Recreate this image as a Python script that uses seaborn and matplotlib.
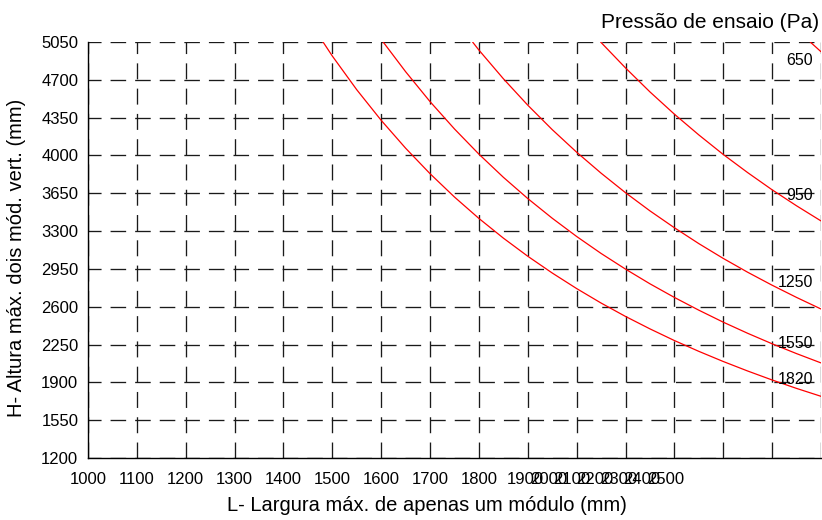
import numpy as np
import pandas as pd
import matplotlib
matplotlib.use("Agg")
import matplotlib.pyplot as plt
import seaborn as sns

# max module height (mm) vs max module width (mm), one curve per test pressure (Pa)
pressures = [1820, 1550, 1250, 950, 650]

width_1820 = [1481, 1500, 1550, 1600, 1650, 1700, 1750, 1800, 1850, 1900, 1950,
              2000, 2050, 2100, 2150, 2200, 2250, 2300, 2350, 2400, 2450, 2500]
height_1820 = [5050, 4920, 4608, 4325, 4067, 3831, 3615, 3417, 3235, 3067, 2912,
               2768, 2634, 2510, 2395, 2287, 2187, 2093, 2005, 1922, 1844, 1771]

width_1550 = [1604, 1650, 1700, 1750, 1800, 1850, 1900, 1950, 2000, 2050,
              2100, 2150, 2200, 2250, 2300, 2350, 2400, 2450, 2500]
height_1550 = [5050, 4775, 4498, 4245, 4012, 3798, 3601, 3419, 3250, 3093,
               2948, 2812, 2686, 2568, 2457, 2354, 2257, 2166, 2080]

width_1250 = [1787, 1800, 1850, 1900, 1950, 2000, 2050, 2100, 2150, 2200,
              2250, 2300, 2350, 2400, 2450, 2500]
height_1250 = [5050, 4975, 4710, 4465, 4239, 4030, 3836, 3655, 3487, 3331,
               3184, 3047, 2919, 2799, 2686, 2579]

width_950 = [2049, 2100, 2150, 2200, 2250, 2300, 2350, 2400, 2450, 2500]
height_950 = [5050, 4810, 4588, 4382, 4190, 4009, 3841, 3682, 3534, 3394]

width_650 = [2478, 2500]
height_650 = [5050, 4960]

# curve labels at the right edge
label_text = ["650", "950", "1250", "1550", "1820"]
label_h = [4883, 3634, 2820, 2264, 1922]

y_ticks = [1200, 1550, 1900, 2250, 2600, 2950, 3300, 3650, 4000, 4350, 4700, 5050]
x_ticks = list(range(1000, 2600, 100))
x_labels = ["1000", "1100", "1200", "1300", "1400", "1500", "1600", "1700", "1800"]
cram_labels = ["1900", "2000", "2100", "2200", "2300", "2400", "2500"]

frames = []
for p, w, h in zip(pressures,
                   [width_1820, width_1550, width_1250, width_950, width_650],
                   [height_1820, height_1550, height_1250, height_950, height_650]):
    frames.append(pd.DataFrame({"L": w, "H": h, "P": str(p)}))
df = pd.concat(frames, ignore_index=True)

sns.set_style("white")
plt.rcParams["font.family"] = ["Liberation Sans", "DejaVu Sans"]
plt.rcParams["lines.scale_dashes"] = False
plt.rcParams["text.color"] = "black"
plt.rcParams["axes.labelcolor"] = "black"

fig = plt.figure(figsize=(8.22, 5.2), dpi=100)
ax = fig.add_axes([88 / 822, 62 / 520, 733 / 822, 416 / 520])

sns.lineplot(data=df, x="L", y="H", hue="P", palette=["#ff0000"] * 5,
             estimator=None, sort=False, legend=False, linewidth=0.9, ax=ax)

ax.set_xlim(1000, 2500)
ax.set_ylim(1200, 5050)
ax.set_yticks(y_ticks)
ax.set_yticklabels([str(v) for v in y_ticks])
ax.set_xticks(x_ticks)
ax.set_xticklabels(x_labels + [""] * (len(x_ticks) - len(x_labels)))
cram_pos = 1894 + 48 * np.arange(len(cram_labels))
ax.set_xticks(cram_pos, labels=cram_labels, minor=True)

ax.tick_params(axis="both", which="both", length=0, labelsize=12, colors="black")
ax.tick_params(axis="y", pad=7)
ax.tick_params(axis="x", which="both", pad=10)

ax.xaxis.grid(True, which="major", color="#1a1a1a", linewidth=0.95,
              linestyle=(0, (11.5, 6.7)))
ax.yaxis.grid(True, which="major", color="#1a1a1a", linewidth=0.95,
              linestyle=(1.8, (11.2, 6.5)))
ax.set_axisbelow(True)

for s in ["top", "right"]:
    ax.spines[s].set_visible(False)
for s in ["left", "bottom"]:
    ax.spines[s].set_color("black")
    ax.spines[s].set_linewidth(1.0)

for t, h in zip(label_text, label_h):
    ax.text(2484, h, t, ha="right", va="center", fontsize=11.5, color="black")

ax.set_xlabel("L- Largura máx. de apenas um módulo (mm)", fontsize=14.5)
ax.set_ylabel("H- Altura máx. dois mód. vert. (mm)", fontsize=14.5)
ax.xaxis.set_label_coords(0.4625, -0.092)
ax.yaxis.set_label_coords(-0.085, 0.48)

fig.text(819 / 822, 1 - 22 / 520, "Pressão de ensaio (Pa)", ha="right", va="center",
         fontsize=15)

fig.savefig("out.png", dpi=100)
